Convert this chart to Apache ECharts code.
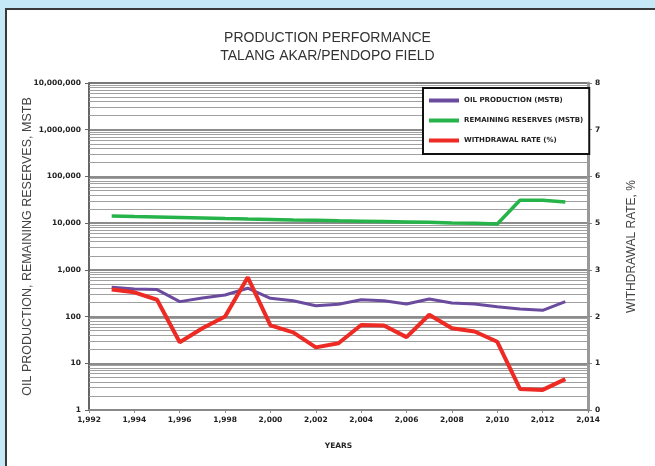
<!DOCTYPE html>
<html>
<head>
<meta charset="utf-8">
<script src="https://cdn.jsdelivr.net/npm/echarts@6/dist/echarts.min.js"></script>
<style>
html, body { margin: 0; padding: 0; background: #c6e9f8; }
.panel { position: absolute; left: 5px; top: 8px; width: 670px; height: 480px; background: #fff; border: 2px solid #3a3a3a; box-sizing: border-box; }
#chart { position: absolute; left: 0; top: 0; width: 655px; height: 466px; }
</style>
</head>
<body>
<div class="panel"></div>
<div id="chart"></div>
<script>
// data
const years = [1993, 1994, 1995, 1996, 1997, 1998, 1999, 2000, 2001, 2002, 2003,
    2004, 2005, 2006, 2007, 2008, 2009, 2010, 2011, 2012, 2013]
const oilProduction = [424, 390, 378, 209, 251, 290, 405, 246, 219, 171, 183,
    230, 219, 186, 238, 195, 186, 163, 145, 136, 209]
const remainingReserves = [14200, 13800, 13500, 13200, 12900, 12500, 12200, 12000, 11700, 11500, 11200,
    11000, 10800, 10600, 10400, 10100, 9900, 9600, 31000, 31000, 28500]
const withdrawalRate = [2.58, 2.52, 2.36, 1.45, 1.75, 2.0, 2.84, 1.81, 1.66, 1.34, 1.43,
    1.82, 1.81, 1.56, 2.04, 1.75, 1.68, 1.46, 0.45, 0.43, 0.66]
// right axis labels as printed (the 4 is missing in the original)
const rateLabels = ['0', '1', '2', '3', '5', '6', '7', '8']
const seriesNames = ['OIL PRODUCTION (MSTB)', 'REMAINING RESERVES (MSTB)', 'WITHDRAWAL RATE (%)']

// minor log grid lines 2..9 per decade
const minorLines = []
for (let p = 0; p < 7; p++) {
    for (let m = 2; m <= 9; m++) {
        minorLines.push({ yAxis: m * Math.pow(10, p) })
    }
}

const tickFont = { fontFamily: 'DejaVu Sans', fontWeight: 'bold', fontSize: 7.5, color: '#222' }

const chart = echarts.init(document.getElementById('chart'))
const option = {
    animation: false,
    title: {
        text: 'PRODUCTION PERFORMANCE\nTALANG AKAR/PENDOPO FIELD',
        left: 'center',
        top: 24,
        textStyle: { fontFamily: 'Liberation Sans', fontWeight: 'normal', fontSize: 14, lineHeight: 18, color: '#333' }
    },
    legend: {
        data: seriesNames,
        zlevel: 2,
        orient: 'vertical',
        left: 423,
        top: 88,
        icon: 'rect',
        itemWidth: 30,
        itemHeight: 4,
        itemGap: 13,
        padding: [9, 6, 10, 6],
        borderColor: '#111',
        borderWidth: 2,
        backgroundColor: '#fff',
        textStyle: { fontFamily: 'DejaVu Sans', fontWeight: 'bold', fontSize: 7, color: '#222' }
    },
    grid: {
        left: 89,
        right: 67,
        top: 83,
        bottom: 56,
        show: true,
        borderColor: '#666',
        borderWidth: 1
    },
    xAxis: {
        type: 'value',
        min: 1992,
        max: 2014,
        interval: 2,
        name: 'YEARS',
        nameLocation: 'middle',
        nameGap: 32,
        nameTextStyle: { fontFamily: 'DejaVu Sans', fontWeight: 'bold', fontSize: 7.5, color: '#222' },
        axisLine: { lineStyle: { color: '#888', width: 2 } },
        axisTick: { show: true, length: 3, lineStyle: { color: '#888' } },
        axisLabel: Object.assign({ margin: 6 }, tickFont),
        splitLine: { show: false }
    },
    yAxis: [
        {
            type: 'log',
            logBase: 10,
            min: 1,
            max: 10000000,
            name: 'OIL PRODUCTION, REMAINING RESERVES, MSTB',
            nameLocation: 'middle',
            nameRotate: 90,
            nameGap: 55,
            nameMoveOverlap: false,
            nameTextStyle: { fontFamily: 'Liberation Sans', fontSize: 12.5, color: '#444' },
            axisLine: { show: true, lineStyle: { color: '#666', width: 2 } },
            axisTick: { show: true, length: 4, lineStyle: { color: '#666' } },
            axisLabel: Object.assign({ margin: 8, formatter: v => v.toLocaleString('en-US') }, tickFont),
            splitLine: { show: true, lineStyle: { color: '#666', width: 1.5 } }
        },
        {
            type: 'value',
            min: 0,
            max: 7,
            interval: 1,
            position: 'right',
            name: 'WITHDRAWAL RATE, %',
            nameLocation: 'middle',
            nameRotate: 90,
            nameGap: 38,
            nameTextStyle: { fontFamily: 'Liberation Sans', fontSize: 12, color: '#444' },
            axisLine: { show: true, lineStyle: { color: '#999', width: 3 } },
            axisTick: { show: true, length: 4, lineStyle: { color: '#888' } },
            axisLabel: Object.assign({ margin: 7, formatter: v => rateLabels[v] }, tickFont),
            splitLine: { show: false }
        }
    ],
    series: [
        {
            name: 'grid',
            type: 'line',
            data: [],
            zlevel: 0,
            z: 1,
            markLine: {
                silent: true,
                symbol: 'none',
                label: { show: false },
                lineStyle: { type: 'solid', color: '#a0a0a0', width: 1 },
                data: minorLines
            }
        },
        {
            name: seriesNames[0],
            type: 'line',
            yAxisIndex: 0,
            zlevel: 1,
            data: years.map((y, i) => [y, oilProduction[i]]),
            symbol: 'none',
            color: '#6a4b9e',
            lineStyle: { width: 3 }
        },
        {
            name: seriesNames[1],
            type: 'line',
            yAxisIndex: 0,
            zlevel: 1,
            data: years.map((y, i) => [y, remainingReserves[i]]),
            symbol: 'none',
            color: '#26b34a',
            lineStyle: { width: 3.5 }
        },
        {
            name: seriesNames[2],
            type: 'line',
            yAxisIndex: 1,
            zlevel: 1,
            data: years.map((y, i) => [y, withdrawalRate[i]]),
            symbol: 'none',
            color: '#ee2a24',
            lineStyle: { width: 4 }
        }
    ]
}
chart.setOption(option)
</script>
</body>
</html>
